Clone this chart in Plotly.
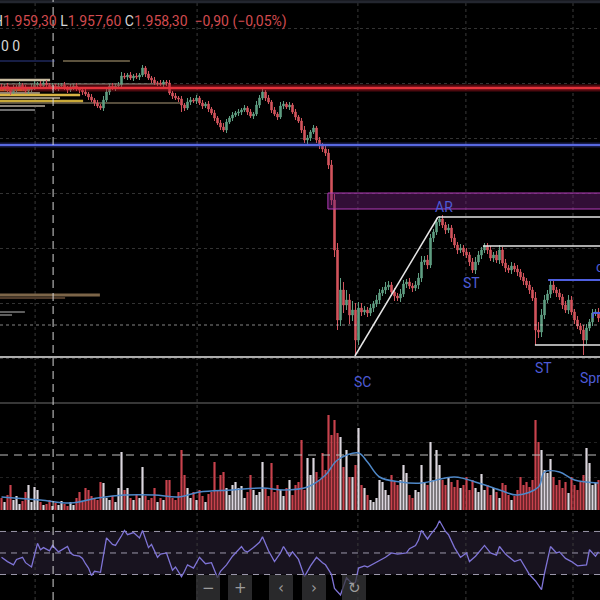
import plotly.graph_objects as go

# ---------------- data ----------------
first_open = 1982.1
closes = [
    1982.0, 1982.2, 1981.8, 1981.6, 1981.9, 1982.1, 1982.3, 1982.0, 1981.7, 1981.8,
    1982.1, 1982.3, 1982.4, 1982.2, 1982.5, 1982.3, 1982.1, 1982.2, 1982.0, 1982.2,
    1982.3, 1982.0, 1981.8, 1982.1, 1982.2, 1981.9, 1981.8, 1981.6, 1981.4, 1981.1,
    1980.8, 1980.5, 1980.2, 1980.0, 1980.8, 1981.6, 1982.2, 1982.0, 1982.2, 1982.3,
    1983.2, 1983.1, 1983.3, 1983.0, 1983.2, 1983.1, 1983.3, 1984.0, 1983.4, 1983.0,
    1982.8, 1982.5, 1982.5, 1982.4, 1982.6, 1982.5, 1981.5, 1981.2, 1981.0, 1980.9,
    1980.3, 1980.0, 1980.6, 1980.8, 1980.7, 1981.0, 1980.5, 1980.2, 1980.4, 1979.9,
    1979.5, 1979.0, 1978.5, 1978.1, 1977.8, 1978.6, 1979.0, 1979.3, 1979.5, 1979.6,
    1979.8, 1980.0, 1979.6, 1979.2, 1979.4, 1980.3, 1981.0, 1981.6, 1981.0, 1980.6,
    1979.8, 1979.4, 1979.1, 1980.2, 1980.4, 1980.1, 1980.3, 1979.6, 1979.1, 1978.7,
    1977.8, 1976.8, 1977.0, 1977.6, 1978.0, 1976.8, 1976.3, 1975.9, 1975.5, 1974.3,
    1970.8, 1965.8, 1958.8, 1961.8, 1960.3, 1960.8, 1959.3, 1959.8, 1956.8, 1960.0,
    1959.6, 1959.8, 1959.5, 1960.0, 1960.4, 1960.8, 1961.5, 1961.8, 1962.1, 1962.3,
    1961.6, 1961.2, 1961.0, 1961.4, 1962.4, 1962.6, 1962.2, 1962.0, 1962.3, 1963.0,
    1964.6, 1964.8, 1964.3, 1967.0, 1967.6, 1968.6, 1968.9, 1968.3, 1967.8, 1968.0,
    1967.0, 1966.3, 1965.8, 1966.0, 1965.6, 1965.3, 1964.6, 1963.8, 1964.6, 1965.3,
    1965.8, 1966.2, 1965.8, 1965.0, 1965.3, 1964.8, 1965.8, 1964.5, 1964.0, 1963.8,
    1964.2, 1963.9, 1963.6, 1963.1, 1962.7, 1962.3, 1961.8, 1961.0, 1957.8, 1957.6,
    1959.3, 1960.8, 1961.4, 1962.3, 1961.8, 1961.5, 1961.1, 1960.3, 1959.8, 1960.8,
    1959.6, 1958.8, 1958.2, 1957.8, 1956.8, 1958.0, 1958.6, 1959.5, 1959.6, 1959.0,
]
upper_wick = [
    0.3, 0.2, 0.3, 0.2, 0.4, 0.2, 0.3, 0.2, 0.3, 0.2, 0.3, 0.4, 0.2, 0.3, 0.2, 0.3, 0.2, 0.3, 0.2, 0.3,
    0.2, 0.3, 0.2, 0.3, 0.2, 0.3, 0.2, 0.2, 0.3, 0.2, 0.3, 0.2, 0.3, 0.2, 0.4, 0.3, 0.2, 0.3, 0.2, 0.3,
    0.4, 0.3, 0.2, 0.3, 0.2, 0.3, 0.2, 0.3, 0.2, 0.3, 0.2, 0.3, 0.2, 0.3, 0.2, 0.2, 0.3, 0.2, 0.3, 0.2,
    0.3, 0.2, 0.4, 0.3, 0.2, 0.3, 0.2, 0.3, 0.2, 0.3, 0.2, 0.3, 0.2, 0.3, 0.4, 0.3, 0.2, 0.3, 0.2, 0.3,
    0.2, 0.3, 0.2, 0.3, 0.2, 0.4, 0.3, 0.3, 0.2, 0.3, 0.2, 0.3, 0.2, 0.4, 0.3, 0.2, 0.3, 0.2, 0.3, 0.2,
    0.3, 0.4, 0.3, 0.2, 0.3, 0.2, 0.3, 0.2, 0.3, 0.4, 0.5, 0.6, 0.7, 1.2, 0.8, 1.0, 0.6, 0.9, 0.7, 0.6,
    0.5, 0.4, 0.3, 0.4, 0.3, 0.5, 0.4, 0.3, 0.5, 0.4, 0.3, 0.4, 0.3, 0.5, 0.4, 0.3, 0.4, 0.3, 0.4, 0.5,
    0.6, 0.4, 0.5, 0.4, 0.3, 0.4, 0.3, 0.4, 0.3, 0.4, 0.3, 0.4, 0.3, 0.4, 0.3, 0.4, 0.3, 0.4, 0.5, 0.4,
    0.3, 0.3, 0.3, 0.4, 0.3, 0.4, 0.5, 0.3, 0.4, 0.3, 0.4, 0.3, 0.4, 0.3, 0.4, 0.3, 0.4, 0.3, 0.6, 0.8,
    0.6, 0.5, 0.4, 0.5, 0.4, 0.3, 0.4, 0.3, 0.4, 0.5, 0.4, 0.3, 0.4, 0.3, 0.5, 0.4, 0.3, 0.4, 0.3, 0.4,
]
lower_wick = [
    0.2, 0.3, 0.2, 0.3, 0.2, 0.3, 0.2, 0.3, 0.2, 0.3, 0.2, 0.3, 0.2, 0.3, 0.2, 0.3, 0.2, 0.3, 0.2, 0.3,
    0.3, 0.2, 0.3, 0.2, 0.3, 0.2, 0.3, 0.3, 0.2, 0.3, 0.2, 0.3, 0.2, 0.2, 0.3, 0.2, 0.3, 0.2, 0.3, 0.2,
    0.3, 0.2, 0.3, 0.2, 0.3, 0.2, 0.3, 0.2, 0.3, 0.2, 0.3, 0.2, 0.3, 0.2, 0.3, 0.3, 0.2, 0.3, 0.2, 0.3,
    0.7, 0.3, 0.2, 0.3, 0.2, 0.3, 0.2, 0.3, 0.2, 0.3, 0.2, 0.3, 0.2, 0.3, 0.2, 0.3, 0.2, 0.3, 0.2, 0.3,
    0.3, 0.2, 0.3, 0.2, 0.3, 0.2, 0.3, 0.2, 0.3, 0.2, 0.3, 0.2, 0.3, 0.2, 0.3, 0.2, 0.3, 0.2, 0.3, 0.2,
    0.3, 0.3, 0.4, 0.3, 0.2, 0.3, 0.4, 0.3, 0.3, 0.4, 0.5, 0.7, 1.0, 0.6, 0.8, 0.5, 0.9, 0.6, 1.6, 0.5,
    0.4, 0.3, 0.4, 0.3, 0.4, 0.3, 0.4, 0.3, 0.4, 0.3, 0.4, 0.5, 0.3, 0.4, 0.3, 0.4, 0.3, 0.4, 0.3, 0.4,
    0.4, 0.3, 0.4, 0.3, 0.4, 0.3, 0.4, 0.3, 0.4, 0.3, 0.4, 0.3, 0.4, 0.3, 0.4, 0.3, 0.4, 0.3, 0.4, 0.3,
    0.4, 0.3, 0.4, 0.3, 0.4, 0.3, 0.4, 0.3, 0.4, 0.3, 0.4, 0.3, 0.4, 0.3, 0.4, 0.3, 0.4, 0.3, 1.5, 0.6,
    0.5, 0.4, 0.3, 0.4, 0.3, 0.4, 0.3, 0.4, 0.3, 0.4, 0.3, 0.4, 0.3, 0.4, 1.5, 0.4, 0.3, 0.4, 0.3, 0.4,
]
volumes = [
    120, 80, 150, 250, 100, 140, 60, 90, 180, 250, 80, 230, 200,
    80, 50, 60, 100, 40, 70, 50, 90, 60, 40, 80, 50,
    120, 180, 80, 220, 200, 140, 120, 100,
    280, 270, 120,
    100, 140, 80,
    220, 580, 200, 220, 120, 100, 150, 120,
    430, 140, 100, 120,
    220, 80, 120, 100, 300, 300, 120, 100,
    180, 600, 350, 220, 120, 180, 100, 200, 140, 80, 160,
    180, 480, 200, 350, 380, 220, 150, 250, 280, 220,
    240, 120, 180, 350, 200, 150, 180, 480, 220, 140,
    470, 180, 250, 200, 140, 220, 300, 150, 250, 280,
    700, 200, 520, 350, 520, 380, 300, 570, 400, 950,
    750, 900, 770, 730, 430, 600, 330, 330, 450, 820,
    250, 220, 150, 100, 80, 120, 300, 280, 200, 150,
    350, 280, 250, 300, 450, 370, 150, 120, 200, 180,
    450, 280, 250, 680, 300, 600, 450, 300, 250, 330,
    280, 230, 300, 220, 250, 330, 200, 300, 220, 180,
    360, 200, 250, 150, 220, 180, 120, 270, 250, 150,
    100, 140, 200, 330, 250, 280, 230, 300, 900, 680,
    600, 400, 370, 510, 330, 250, 300, 220, 280, 170,
    330, 250, 200, 280, 350, 620, 470, 250, 270, 300,
]
vol_ma_bar = [0, 13, 23, 32, 41, 51, 59, 66, 77, 87, 94, 102, 108, 112, 119, 122, 126, 133,
              140, 151, 159, 166, 172, 179, 181, 186, 191, 199]
vol_ma = [130, 100, 70, 120, 150, 150, 130, 180, 200, 220, 200, 230, 350, 500, 570, 480, 330, 280,
          270, 330, 270, 200, 150, 230, 380, 380, 300, 270]

rsi_bar = [0, 2, 4, 5, 7, 8, 10, 12, 13, 14, 16, 17, 19, 21, 22, 23, 24, 26, 27, 28, 29, 30, 31,
           33, 35, 37, 38, 40, 41, 42, 44, 46, 47, 49, 50, 52, 53, 55, 57, 58, 60, 61, 62, 64, 66,
           68, 70, 72, 73, 75, 77, 80, 81, 82, 84, 86, 87, 89, 91, 93, 94, 96, 97, 99, 101, 103,
           105, 107, 108, 110, 111, 113, 114, 115, 117, 118, 119, 121, 122, 124, 126, 128, 130,
           132, 135, 136, 138, 139, 140, 142, 143, 145, 146, 148, 149, 151, 153, 155, 156, 158,
           161, 163, 165, 166, 168, 171, 173, 176, 178, 180, 181, 182, 183, 185, 186, 188, 190,
           192, 195, 196, 198, 199]
rsi = [46, 42, 39, 44, 46, 41, 37, 59, 53, 55, 52, 57, 51, 54, 56, 50, 48, 47, 45, 40, 36, 29, 33,
       32, 64, 58, 57, 66, 71, 67, 69, 64, 71, 55, 58, 46, 49, 50, 34, 37, 28, 33, 39, 36, 46,
       40, 41, 27, 33, 39, 47, 56, 52, 51, 55, 60, 65, 52, 42, 50, 56, 47, 51, 44, 28, 38,
       46, 41, 39, 30, 17, 11, 20, 27, 21, 23, 36, 38, 37, 40, 43, 46, 50,
       49, 50, 54, 57, 62, 71, 63, 67, 74, 80, 70, 67, 55, 46, 50, 42, 47,
       57, 50, 48, 56, 49, 42, 44, 30, 24, 16, 31, 45, 56, 50, 51, 45, 42,
       38, 39, 53, 47, 51]

# volume profile on the left edge: price level, start, length, thickness, colour
prof_price = [1984.7, 1984.7, 1982.8, 1982.4, 1981.8, 1981.5, 1981.3, 1981.0, 1980.7, 1980.5,
              1980.2, 1979.8, 1961.3, 1961.0, 1959.6, 1959.3]
prof_start = [-0.5, 20.5, -0.5, -0.5, -0.5, -0.5, -0.5, -0.5, -0.5, -0.5,
              -0.5, -0.5, -0.5, -0.5, -0.5, -0.5]
prof_len = [18.3, 22.3, 16.7, 55.7, 10.0, 13.3, 26.7, 20.0, 27.7, 60.0,
            15.0, 11.7, 33.3, 21.7, 8.3, 4.0]
prof_thick = [0.12, 0.12, 0.25, 0.1, 0.25, 0.2, 0.25, 0.2, 0.25, 0.12,
              0.2, 0.2, 0.3, 0.2, 0.2, 0.2]
prof_color = ['#2e3d8a', '#b8a47a', '#c9bca0', '#a59d90', '#e08a30', '#8c8070', '#d8b444', '#948a7a',
              '#c8a838', '#ab9a78', '#8a8278', '#6e6e6e', '#7c6548', '#4e3a2a', '#5e5e5e', '#5e5e5e']

# levels / drawings
red_level = 1982.0
blue_level = 1976.3
base_level = 1955.1
last_price = 1958.3
zone_start, zone_low, zone_high = 108.8, 1969.9, 1971.5
white_levels = [(145.5, 1969.1), (160.5, 1966.2), (177.8, 1956.3)]
blue_partial = [(182.2, 1962.8), (197.2, 1959.5)]
sc_ar_line = [(117.8, 1955.2), (145.5, 1969.1)]
time_grid = [11.2, 65.2, 118.8, 154.8, 190.5]
crosshair_bar = 17.2
crosshair_vol = 550

labels = [("AR", 147.5, 1970.1, "center"), ("ST", 156.5, 1962.5, "center"),
          ("SC", 120.2, 1952.6, "center"), ("ST", 180.5, 1954.0, "center"),
          ("Spr", 192.0, 1953.0, "left"), ("c", 197.6, 1964.1, "left")]

header_parts = [("H", "#d6d6d6"), ("1.959,30\u00a0", "#d24b4f"), ("L", "#d6d6d6"),
                ("1.957,60\u00a0", "#d24b4f"), ("C", "#d6d6d6"),
                ("1.958,30\u00a0\u00a0−0,90\u00a0(−0,05%)", "#d24b4f")]
buttons = ["−", "+", "‹", "›", "↻"]

# ---------------- build ----------------
n = len(closes)
idx = list(range(n))
opens = [first_open] + closes[:-1]
highs = [max(o, c) + u for o, c, u in zip(opens, closes, upper_wick)]
lows = [min(o, c) - l for o, c, l in zip(opens, closes, lower_wick)]
UP, DN = '#5f9e82', '#d2545d'
vcolors = ['#dcd7df' if c >= o else '#c9424d' for o, c in zip(opens, closes)]

fig = go.Figure()
fig.add_trace(go.Candlestick(
    x=idx, open=opens, high=highs, low=lows, close=closes,
    increasing=dict(line=dict(color=UP, width=1), fillcolor=UP),
    decreasing=dict(line=dict(color=DN, width=1), fillcolor=DN),
    whiskerwidth=0, showlegend=False, hoverinfo='skip', xaxis='x', yaxis='y'))
fig.add_trace(go.Bar(
    orientation='h', y=prof_price, x=prof_len, base=prof_start, width=prof_thick,
    marker=dict(color=prof_color, line=dict(width=0)), showlegend=False,
    hoverinfo='skip', xaxis='x', yaxis='y'))
fig.add_trace(go.Bar(
    x=idx, y=volumes, width=0.72, marker=dict(color=vcolors, line=dict(width=0)),
    showlegend=False, hoverinfo='skip', xaxis='x', yaxis='y2'))
fig.add_trace(go.Scatter(
    x=vol_ma_bar, y=vol_ma, mode='lines', line=dict(color='#4f88c8', width=1.5, shape='spline'),
    showlegend=False, hoverinfo='skip', xaxis='x', yaxis='y2'))
fig.add_trace(go.Scatter(
    x=rsi_bar, y=rsi, mode='lines', line=dict(color='#7f74d6', width=1.3),
    showlegend=False, hoverinfo='skip', xaxis='x', yaxis='y3'))

shapes = []
# RSI band
shapes.append(dict(type='rect', xref='paper', yref='y3', x0=0, x1=1, y0=30, y1=70,
                   fillcolor='#18131f', line=dict(width=0), layer='below'))
for lv in (70, 50, 30):
    shapes.append(dict(type='line', xref='paper', yref='y3', x0=0, x1=1, y0=lv, y1=lv,
                       line=dict(color='#9b97aa', width=1, dash='6px,5px'), layer='below'))
# time grid
for g in time_grid:
    shapes.append(dict(type='line', xref='x', yref='paper', x0=g, x1=g, y0=0, y1=1,
                       line=dict(color='#3a3a3a', width=1, dash='dot'), layer='below'))
# pane separator & top border
shapes.append(dict(type='line', xref='paper', yref='paper', x0=0, x1=1, y0=1 - 403 / 600,
                   y1=1 - 403 / 600, line=dict(color='#4a4a4a', width=1.5)))
shapes.append(dict(type='line', xref='paper', yref='paper', x0=0, x1=1, y0=0.997, y1=0.997,
                   line=dict(color='#23262f', width=3)))
# purple zone
shapes.append(dict(type='rect', xref='x', yref='y', x0=zone_start, x1=n + 5, y0=zone_low,
                   y1=zone_high, fillcolor='rgba(110,30,120,0.45)',
                   line=dict(color='#b23cb8', width=1)))
# full-width levels
shapes.append(dict(type='line', xref='paper', yref='y', x0=0, x1=1, y0=red_level, y1=red_level,
                   line=dict(color='rgba(170,20,30,0.45)', width=7)))
shapes.append(dict(type='line', xref='paper', yref='y', x0=0, x1=1, y0=red_level, y1=red_level,
                   line=dict(color='#e3333c', width=2.5)))
shapes.append(dict(type='line', xref='paper', yref='y', x0=0, x1=1, y0=blue_level, y1=blue_level,
                   line=dict(color='rgba(70,80,200,0.35)', width=5)))
shapes.append(dict(type='line', xref='paper', yref='y', x0=0, x1=1, y0=blue_level, y1=blue_level,
                   line=dict(color='#5868e0', width=2)))
shapes.append(dict(type='line', xref='paper', yref='y', x0=0, x1=1, y0=base_level, y1=base_level,
                   line=dict(color='#e6e6e6', width=1.5)))
shapes.append(dict(type='line', xref='paper', yref='y', x0=0, x1=1, y0=last_price, y1=last_price,
                   line=dict(color='rgba(220,220,220,0.6)', width=1, dash='dot')))
for x0, lv in white_levels:
    shapes.append(dict(type='line', xref='x', yref='y', x0=x0, x1=n + 5, y0=lv, y1=lv,
                       line=dict(color='#e6e6e6', width=1.5)))
for x0, lv in blue_partial:
    shapes.append(dict(type='line', xref='x', yref='y', x0=x0, x1=n + 5, y0=lv, y1=lv,
                       line=dict(color='#4f5fe0', width=2)))
shapes.append(dict(type='line', xref='x', yref='y', x0=blue_partial[1][0], x1=blue_partial[1][0],
                   y0=blue_partial[1][1], y1=blue_partial[1][1] - 0.5,
                   line=dict(color='#4f5fe0', width=1.5)))
shapes.append(dict(type='line', xref='x', yref='y', x0=sc_ar_line[0][0], y0=sc_ar_line[0][1],
                   x1=sc_ar_line[1][0], y1=sc_ar_line[1][1], line=dict(color='#e6e6e6', width=1.5)))
# crosshair
shapes.append(dict(type='line', xref='x', yref='paper', x0=crosshair_bar, x1=crosshair_bar,
                   y0=0, y1=1, line=dict(color='#d4d4d4', width=1, dash='8px,5px')))
shapes.append(dict(type='line', xref='paper', yref='y2', x0=0, x1=1, y0=crosshair_vol,
                   y1=crosshair_vol, line=dict(color='#bdbdbd', width=1, dash='8px,6px')))
# buttons
btn_x = [208, 240, 281, 314, 354]
for bx in btn_x:
    shapes.append(dict(type='rect', xref='paper', yref='paper', x0=(bx - 12) / 600,
                       x1=(bx + 12) / 600, y0=0.0, y1=1 - 575 / 600,
                       fillcolor='rgba(55,55,58,0.75)', line=dict(width=0)))

annotations = []
header = "".join(f"<span style='color:{c}'>{t}</span>" for t, c in header_parts)
annotations.append(dict(xref='paper', yref='paper', x=-9 / 600, y=1 - 21 / 600, xanchor='left',
                        yanchor='middle', text=header, showarrow=False,
                        font=dict(family='Roboto', size=14, color='#d6d6d6')))
annotations.append(dict(xref='paper', yref='paper', x=-1 / 600, y=1 - 46 / 600, xanchor='left',
                        yanchor='middle', text="0\u00a00", showarrow=False,
                        font=dict(family='Roboto', size=14, color='#d6d6d6')))
for t, bx, py, anc in labels:
    annotations.append(dict(xref='x', yref='y', x=bx, y=py, text=t, showarrow=False,
                            xanchor=anc, yanchor='middle',
                            font=dict(family='Roboto', size=14, color='#4d5bd6')))
for t, bx in zip(buttons, btn_x):
    annotations.append(dict(xref='paper', yref='paper', x=bx / 600, y=1 - 588 / 600, text=t,
                            showarrow=False, xanchor='center', yanchor='middle',
                            font=dict(family='DejaVu Sans', size=15, color='#9c9c9c')))

fig.update_layout(
    width=600, height=600, margin=dict(l=0, r=0, t=0, b=0),
    paper_bgcolor='#000000', plot_bgcolor='#000000', barmode='overlay', showlegend=False,
    xaxis=dict(range=[-0.5, n - 0.5], showgrid=False, zeroline=False, showticklabels=False,
               showline=False, rangeslider=dict(visible=False), anchor='y', fixedrange=True),
    yaxis=dict(domain=[1 - 403 / 600, 1], range=[1950.5, 1990.8], tick0=1955.0, dtick=5.5,
               showgrid=True, gridcolor='#333333', griddash='dot', zeroline=False,
               showticklabels=False, anchor='x'),
    yaxis2=dict(domain=[1 - 510 / 600, 1 - 403 / 600], range=[0, 1070], tickvals=[330, 680],
                showgrid=True, gridcolor='#222222', griddash='dot', zeroline=False,
                showticklabels=False, anchor='x'),
    yaxis3=dict(domain=[0, 1 - 515 / 600], range=[6.3, 85.3], showgrid=False, zeroline=False,
                showticklabels=False, anchor='x'),
    shapes=shapes, annotations=annotations,
)
fig.write_html("out.html", config={'displayModeBar': False, 'staticPlot': True},
               post_script="document.body.style.margin='0px';document.body.style.background='#000';")
